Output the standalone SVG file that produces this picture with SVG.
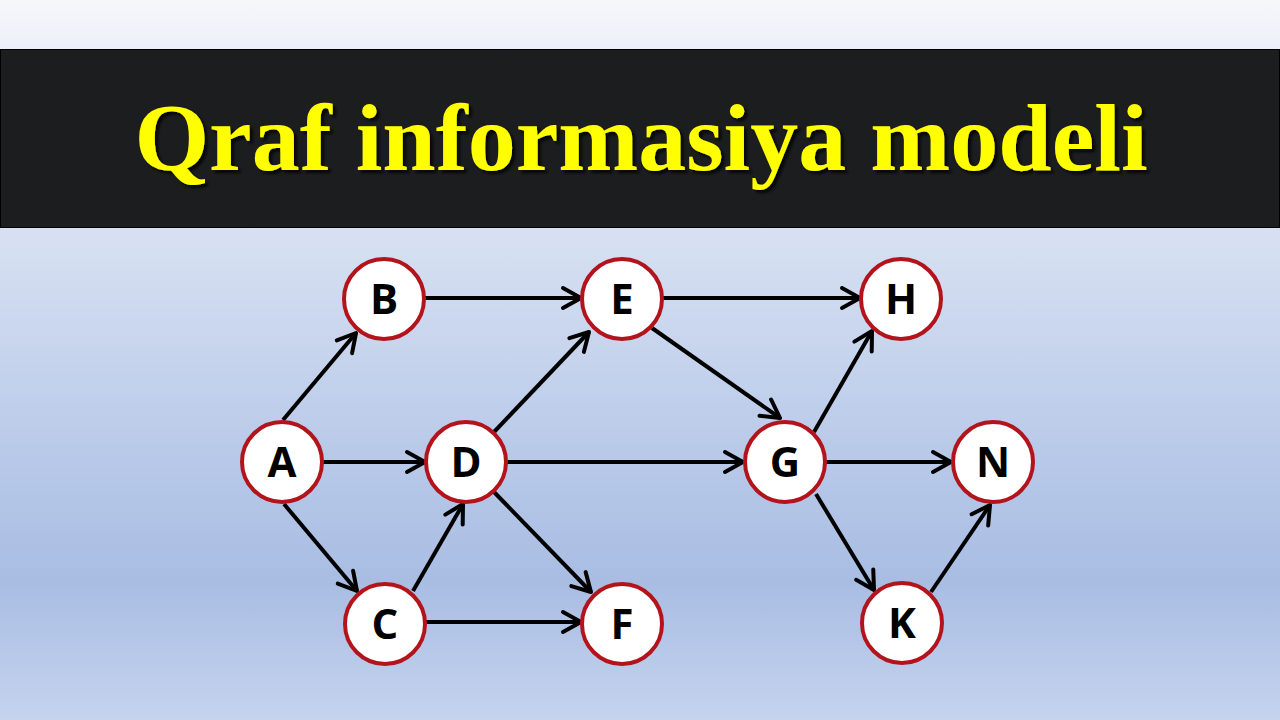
<svg xmlns="http://www.w3.org/2000/svg" width="1280" height="720" viewBox="0 0 1280 720">
  <defs>
    <linearGradient id="topbg" x1="0" y1="0" x2="0" y2="1">
      <stop offset="0" stop-color="#f6f7fb"/>
      <stop offset="1" stop-color="#edf0f8"/>
    </linearGradient>
    <linearGradient id="bg" x1="0" y1="0" x2="0" y2="1">
      <stop offset="0" stop-color="#d8e1f2"/>
      <stop offset="0.45" stop-color="#b9cae9"/>
      <stop offset="0.72" stop-color="#a9bde3"/>
      <stop offset="1" stop-color="#c5d3ee"/>
    </linearGradient>
    <filter id="shadow" x="-5%" y="-20%" width="110%" height="140%">
      <feDropShadow dx="3" dy="3" stdDeviation="1.5" flood-color="#000" flood-opacity="0.8"/>
    </filter>
    <marker id="arr" markerUnits="userSpaceOnUse" markerWidth="26" markerHeight="26" viewBox="0 0 26 26" refX="23" refY="13" orient="auto">
      <path d="M5,3 L23,13 L5,23" fill="none" stroke="#000" stroke-width="4" stroke-linecap="round" stroke-linejoin="round"/>
    </marker>
  </defs>
  <style>
    .node circle { fill: #ffffff; stroke: #b3141c; stroke-width: 4; }
    .node text { font-family: "Open Sans", "Liberation Sans", sans-serif; font-weight: 700; font-size: 42px; fill: #000; text-anchor: middle; }
    .edge { stroke: #000; stroke-width: 4; fill: none; marker-end: url(#arr); }
  </style>

  <rect x="0" y="0" width="1280" height="49" fill="url(#topbg)"/>
  <rect x="0" y="228" width="1280" height="492" fill="url(#bg)"/>
  <rect x="0.5" y="49.5" width="1279" height="178" fill="#1c1d1f" stroke="#000" stroke-width="1"/>
  <text x="641" y="170" text-anchor="middle" font-family="'Liberation Serif', 'Times New Roman', serif" font-weight="700" font-size="96" fill="#ffff00" filter="url(#shadow)">Qraf informasiya modeli</text>

  <g id="connectors">
    <line class="edge" x1="283" y1="420" x2="356" y2="333"/>
    <line class="edge" x1="322" y1="462" x2="425" y2="462"/>
    <line class="edge" x1="284" y1="504" x2="357" y2="591"/>
    <line class="edge" x1="425" y1="298" x2="581" y2="298"/>
    <line class="edge" x1="413" y1="591" x2="463" y2="504"/>
    <line class="edge" x1="426" y1="622" x2="581" y2="622"/>
    <line class="edge" x1="494" y1="432" x2="589" y2="332"/>
    <line class="edge" x1="507" y1="462" x2="743" y2="462"/>
    <line class="edge" x1="494" y1="492" x2="591" y2="592"/>
    <line class="edge" x1="663" y1="298" x2="860" y2="298"/>
    <line class="edge" x1="652" y1="328" x2="780" y2="418"/>
    <line class="edge" x1="814" y1="432" x2="872" y2="331"/>
    <line class="edge" x1="826" y1="462" x2="951" y2="462"/>
    <line class="edge" x1="816" y1="494" x2="874" y2="590"/>
    <line class="edge" x1="931" y1="592" x2="990" y2="505"/>
  </g>

  <g id="node-A" class="node"><circle cx="282" cy="462" r="40"/><text x="282" y="477">A</text></g>
  <g id="node-B" class="node"><circle cx="384" cy="299" r="40"/><text x="384" y="314">B</text></g>
  <g id="node-C" class="node"><circle cx="385" cy="624" r="40"/><text x="385" y="639">C</text></g>
  <g id="node-D" class="node"><circle cx="466" cy="462" r="40"/><text x="466" y="477">D</text></g>
  <g id="node-E" class="node"><circle cx="622" cy="299" r="40"/><text x="622" y="314">E</text></g>
  <g id="node-F" class="node"><circle cx="622" cy="624" r="40"/><text x="622" y="639">F</text></g>
  <g id="node-G" class="node"><circle cx="785" cy="462" r="40"/><text x="785" y="477">G</text></g>
  <g id="node-H" class="node"><circle cx="901" cy="299" r="40"/><text x="901" y="314">H</text></g>
  <g id="node-N" class="node"><circle cx="993" cy="462" r="40"/><text x="993" y="477">N</text></g>
  <g id="node-K" class="node"><circle cx="902" cy="623" r="40"/><text x="902" y="638">K</text></g>
</svg>
